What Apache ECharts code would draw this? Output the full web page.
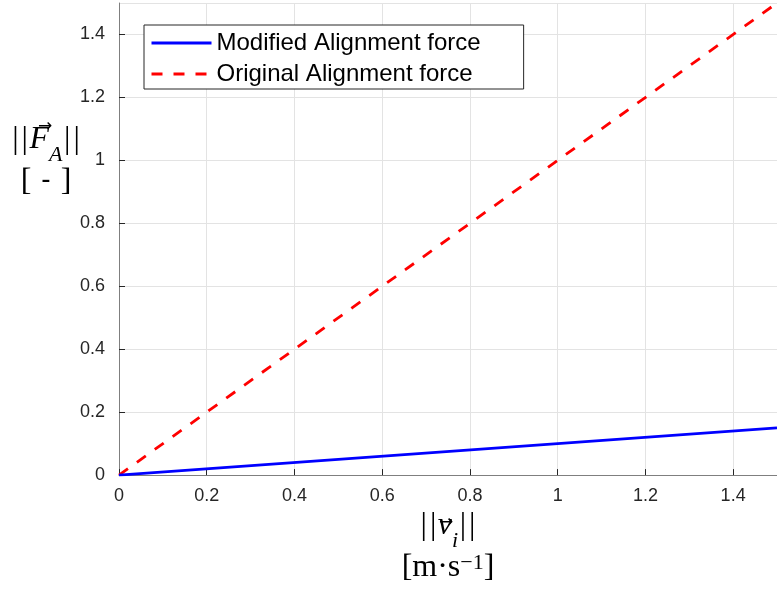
<!DOCTYPE html>
<html>
<head>
<meta charset="utf-8">
<script src="https://cdn.jsdelivr.net/npm/echarts@6/dist/echarts.min.js"></script>
<style>html,body{margin:0;padding:0;background:#fff;}#c{width:777px;height:589px;}</style>
</head>
<body>
<div id="c"></div>
<script>
const speed = [0, 1.5];
const modifiedForce = [0, 0.15];
const originalForce = [0, 1.5];
const xTicks = [0, 0.2, 0.4, 0.6, 0.8, 1, 1.2, 1.4];
const yTicks = [0, 0.2, 0.4, 0.6, 0.8, 1, 1.2, 1.4];
const seriesNames = ['Modified Alignment force', 'Original Alignment force'];

const chart = echarts.init(document.getElementById('c'));
const serif = 'Liberation Serif';
const LH = 42;
const rich = {
  b: {fontFamily: serif, fontSize: 32, lineHeight: LH, verticalAlign: 'top', color: '#000'},
  bar: {fontFamily: serif, fontSize: 32, lineHeight: LH, verticalAlign: 'top', color: '#000', padding: [0, 1.5, 0, 1.5]},
  it: {fontFamily: serif, fontStyle: 'italic', fontSize: 32, lineHeight: LH, verticalAlign: 'top', color: '#000'},
  sub: {fontFamily: serif, fontStyle: 'italic', fontSize: 22, lineHeight: 27, verticalAlign: 'bottom', color: '#000'},
  sup: {fontFamily: serif, fontSize: 22, lineHeight: 22, verticalAlign: 'top', color: '#000'},
  dash: {fontFamily: 'Liberation Sans', fontSize: 28, lineHeight: LH, verticalAlign: 'top', color: '#000', padding: [0, 2, 0, 2]}
};
const fmt = v => String(Math.round(v * 10) / 10);
const arrowStyle = {text: '→', fontFamily: 'DejaVu Sans', fontSize: 17, fill: '#000', align: 'center', verticalAlign: 'middle'};

chart.setOption({
  animation: false,
  backgroundColor: '#fff',
  grid: {left: 119, right: -7, top: 3, bottom: 112, containLabel: false},
  legend: {
    orient: 'vertical', left: 144, top: 25,
    padding: [6, 43, 3, 6], itemGap: 7,
    itemWidth: 60, itemHeight: 20,
    backgroundColor: '#fff', borderColor: '#262626', borderWidth: 1,
    itemStyle: {opacity: 0},
    lineStyle: {width: 3},
    textStyle: {fontFamily: 'Liberation Sans', fontSize: 24, color: '#000', lineHeight: 22},
    data: seriesNames
  },
  xAxis: {
    type: 'value', min: 0, max: 1.5, interval: 0.2,
    axisLine: {show: true, lineStyle: {color: '#7f7f7f', width: 1}},
    axisTick: {show: true, inside: true, length: 6, lineStyle: {color: '#262626'}},
    axisLabel: {fontFamily: 'Liberation Sans', fontSize: 18, color: '#262626', margin: 12, showMaxLabel: false,
      formatter: v => xTicks.some(t => Math.abs(t - v) < 1e-9) ? fmt(v) : ''},
    splitLine: {show: true, lineStyle: {color: '#e3e3e3', width: 1}},
    name: '{bar|\|}{bar|\|}{it|v}{sub|i}{bar|\|}{bar|\|}\n{b|[m·s}{sup|−1}{b|]}',
    nameLocation: 'middle', nameGap: 34,
    nameTextStyle: {rich: rich, align: 'center', verticalAlign: 'top'}
  },
  yAxis: {
    type: 'value', min: 0, max: 1.5, interval: 0.2,
    axisLine: {show: true, lineStyle: {color: '#7f7f7f', width: 1}},
    axisTick: {show: true, inside: true, length: 6, lineStyle: {color: '#262626'}},
    axisLabel: {fontFamily: 'Liberation Sans', fontSize: 18, color: '#262626', margin: 14, showMaxLabel: false,
      formatter: v => yTicks.some(t => Math.abs(t - v) < 1e-9) ? fmt(v) : ''},
    splitLine: {show: true, lineStyle: {color: '#e3e3e3', width: 1}}
  },
  graphic: [
    {type: 'text', x: 46, y: 124,
      style: {text: '{bar|\|}{bar|\|}{it|F}{sub|A}{bar|\|}{bar|\|}\n{b|[ }{dash|-}{b| ]}', rich: rich, align: 'center', verticalAlign: 'top'}},
    {type: 'text', x: 45, y: 127, style: arrowStyle},
    {type: 'text', x: 446, y: 523, style: arrowStyle}
  ],
  series: [
    {name: seriesNames[0], type: 'line', symbol: 'none', data: speed.map((x, i) => [x, modifiedForce[i]]),
      lineStyle: {color: '#0000ff', width: 2.8}, itemStyle: {color: '#0000ff'}, z: 3},
    {name: seriesNames[1], type: 'line', symbol: 'none', data: speed.map((x, i) => [x, originalForce[i]]),
      lineStyle: {color: '#ff0000', width: 2.8, type: [11, 11]}, itemStyle: {color: '#ff0000'}, z: 2}
  ]
});
</script>
</body>
</html>
